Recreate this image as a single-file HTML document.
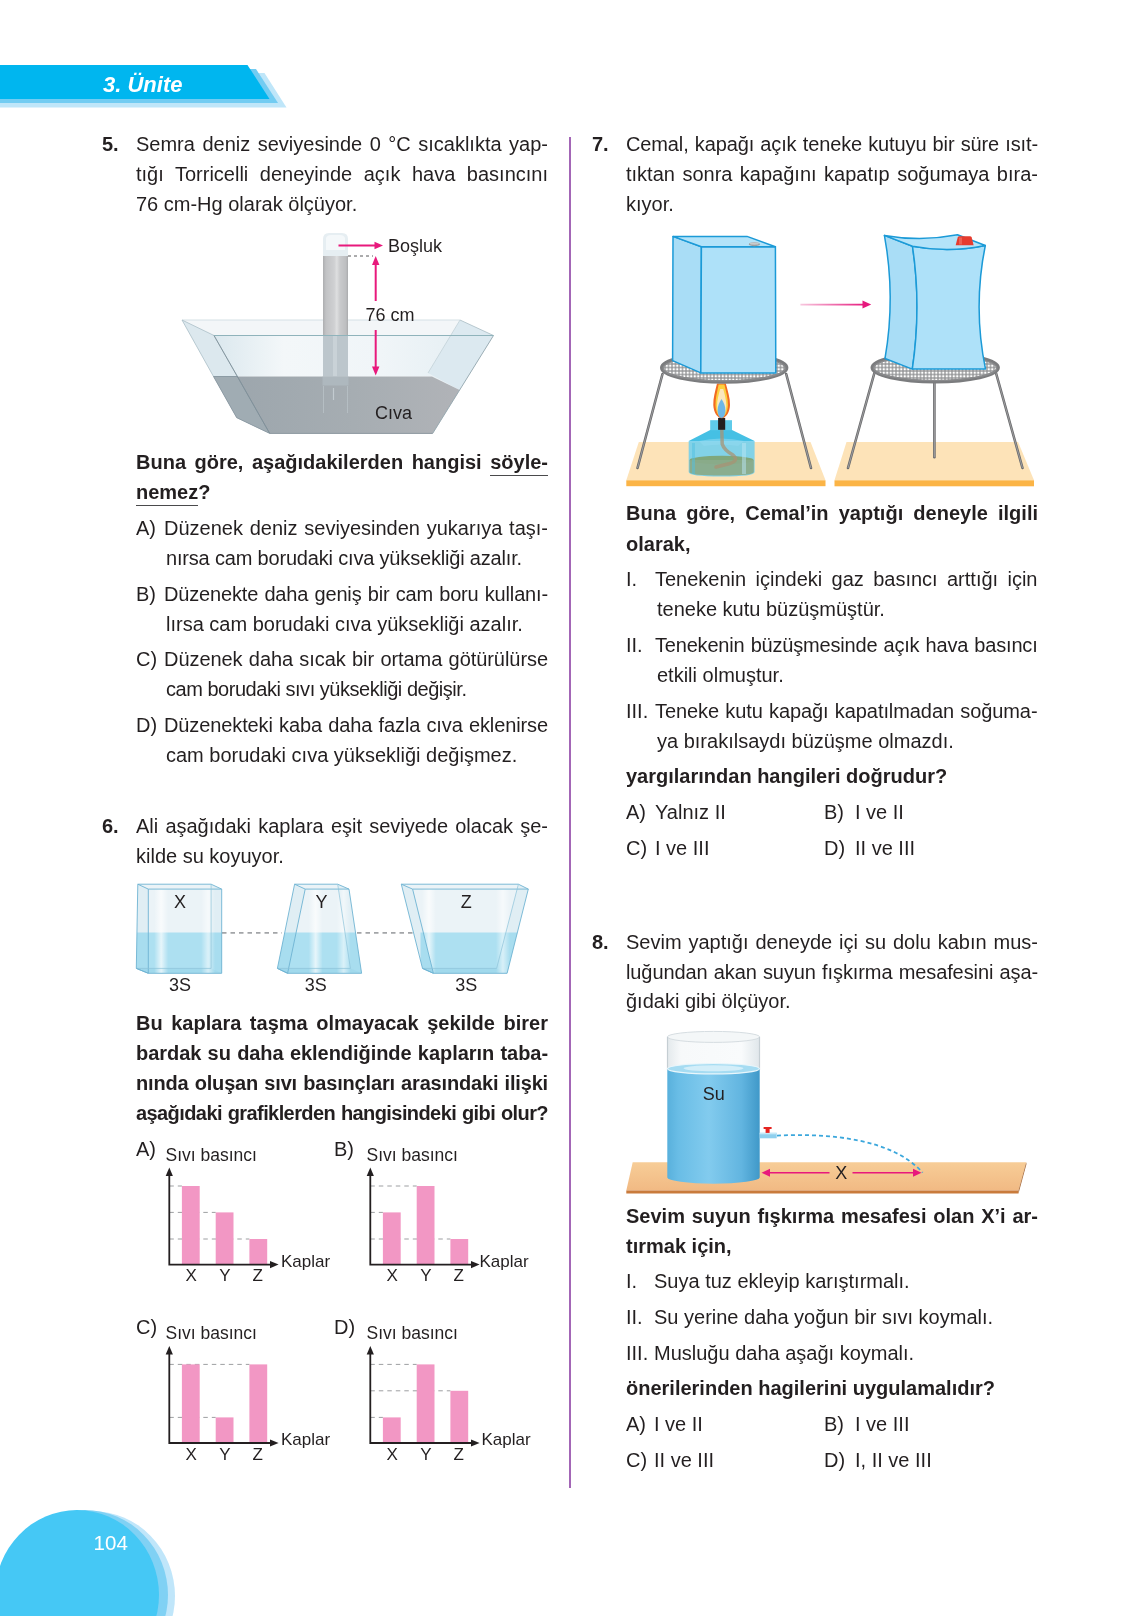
<!DOCTYPE html>
<html><head><meta charset="utf-8">
<style>
html,body{margin:0;padding:0;background:#fff;}
body{width:1134px;height:1616px;position:relative;overflow:hidden;font-family:"Liberation Sans",sans-serif;color:#231f20;}
.t{will-change:transform;position:absolute;font-size:20px;line-height:30px;white-space:nowrap;}
.t.j{white-space:normal;text-align:justify;text-align-last:justify;height:30px;overflow:visible;}
.b{font-weight:bold;}
u{text-decoration:none;border-bottom:1.5px solid #4a4a4c;padding-bottom:1.5px;}
svg{position:absolute;overflow:visible;will-change:transform;}
</style></head><body>
<svg style="left:0;top:0" width="1134" height="1616" viewBox="0 0 1134 1616">
<polygon points="0,73 264.5,73 286.5,107.5 0,107.5" fill="#bfe6f9"/>
<polygon points="0,69 256,69 278,103 0,103" fill="#72ccf2"/>
<polygon points="0,65 247.5,65 269.5,99 0,99" fill="#00b6ef"/>
<text x="103" y="92" font-family="Liberation Sans" font-weight="bold" font-style="italic" font-size="22" fill="#fff">3. Ünite</text>
<rect x="569" y="137" width="2" height="1351" fill="#a366b6"/>
<ellipse cx="92" cy="1596" rx="83" ry="85" fill="#c0e6fa"/>
<ellipse cx="85" cy="1595" rx="83" ry="85" fill="#80d1f4"/>
<ellipse cx="77" cy="1595" rx="82" ry="85" fill="#45c8f5"/>
<text x="93.6" y="1550" font-family="Liberation Sans" font-size="20.5" fill="#fff">104</text>
</svg>

<div class="t b" style="left:102px;top:129px;">5.</div>
<div class="t j" style="left:135.5px;top:129px;width:412.0px;">Semra deniz seviyesinde 0 °C sıcaklıkta yap-</div>
<div class="t j" style="left:135.5px;top:159px;width:412.0px;">tığı Torricelli deneyinde açık hava basıncını</div>
<div class="t" style="left:135.5px;top:189px;">76 cm-Hg olarak ölçüyor.</div>
<div class="t b j" style="left:135.5px;top:447px;width:412.0px;">Buna göre, aşağıdakilerden hangisi <u>söyle-</u></div>
<div class="t b" style="left:135.5px;top:477px;"><u>nemez</u>?</div>
<div class="t" style="left:135.5px;top:513px;">A)</div>
<div class="t j" style="left:163.5px;top:513px;width:384.0px;">Düzenek deniz seviyesinden yukarıya taşı-</div>
<div class="t" style="left:165.8px;top:543px;letter-spacing:-0.18px;">nırsa cam borudaki cıva yüksekliği azalır.</div>
<div class="t" style="left:135.5px;top:579px;">B)</div>
<div class="t j" style="left:163.5px;top:579px;width:384.0px;letter-spacing:-0.157px;">Düzenekte daha geniş bir cam boru kullanı-</div>
<div class="t" style="left:165.8px;top:609px;">lırsa cam borudaki cıva yüksekliği azalır.</div>
<div class="t" style="left:135.5px;top:644px;">C)</div>
<div class="t j" style="left:163.5px;top:644px;width:384.0px;letter-spacing:-0.059px;">Düzenek daha sıcak bir ortama götürülürse</div>
<div class="t" style="left:165.8px;top:674px;letter-spacing:-0.47px;">cam borudaki sıvı yüksekliği değişir.</div>
<div class="t" style="left:135.5px;top:710px;">D)</div>
<div class="t j" style="left:163.5px;top:710px;width:384.0px;letter-spacing:-0.111px;">Düzenekteki kaba daha fazla cıva eklenirse</div>
<div class="t" style="left:165.8px;top:740px;">cam borudaki cıva yüksekliği değişmez.</div>
<div class="t b" style="left:102px;top:811px;">6.</div>
<div class="t j" style="left:135.5px;top:811px;width:412.0px;">Ali aşağıdaki kaplara eşit seviyede olacak şe-</div>
<div class="t" style="left:135.5px;top:841px;">kilde su koyuyor.</div>
<div class="t b j" style="left:135.5px;top:1008px;width:412.0px;">Bu kaplara taşma olmayacak şekilde birer</div>
<div class="t b j" style="left:135.5px;top:1038px;width:412.0px;letter-spacing:-0.051px;">bardak su daha eklendiğinde kapların taba-</div>
<div class="t b j" style="left:135.5px;top:1068px;width:412.0px;letter-spacing:-0.168px;">nında oluşan sıvı basınçları arasındaki ilişki</div>
<div class="t b j" style="left:135.5px;top:1098px;width:412.0px;letter-spacing:-0.584px;">aşağıdaki grafiklerden hangisindeki gibi olur?</div>
<div class="t b" style="left:592px;top:129px;">7.</div>
<div class="t j" style="left:625.5px;top:129px;width:412.0px;letter-spacing:-0.128px;">Cemal, kapağı açık teneke kutuyu bir süre ısıt-</div>
<div class="t j" style="left:625.5px;top:159px;width:412.0px;">tıktan sonra kapağını kapatıp soğumaya bıra-</div>
<div class="t" style="left:625.5px;top:189px;">kıyor.</div>
<div class="t b j" style="left:625.5px;top:498px;width:412.0px;">Buna göre, Cemal’in yaptığı deneyle ilgili</div>
<div class="t b" style="left:625.5px;top:528.5px;">olarak,</div>
<div class="t" style="left:625.5px;top:564px;">I.</div>
<div class="t j" style="left:655px;top:564px;width:382.5px;">Tenekenin içindeki gaz basıncı arttığı için</div>
<div class="t" style="left:657px;top:593.5px;">teneke kutu büzüşmüştür.</div>
<div class="t" style="left:625.5px;top:630px;">II.</div>
<div class="t j" style="left:655px;top:630px;width:382.5px;letter-spacing:-0.19px;">Tenekenin büzüşmesinde açık hava basıncı</div>
<div class="t" style="left:657px;top:659.5px;">etkili olmuştur.</div>
<div class="t" style="left:625.5px;top:696px;">III.</div>
<div class="t j" style="left:655px;top:696px;width:382.5px;letter-spacing:-0.081px;">Teneke kutu kapağı kapatılmadan soğuma-</div>
<div class="t" style="left:657px;top:726px;">ya bırakılsaydı büzüşme olmazdı.</div>
<div class="t b" style="left:625.5px;top:760.5px;">yargılarından hangileri doğrudur?</div>
<div class="t" style="left:625.5px;top:797px;">A)</div>
<div class="t" style="left:655px;top:797px;">Yalnız II</div>
<div class="t" style="left:824px;top:797px;">B)</div>
<div class="t" style="left:855px;top:797px;">I ve II</div>
<div class="t" style="left:625.5px;top:832.5px;">C)</div>
<div class="t" style="left:655px;top:832.5px;">I ve III</div>
<div class="t" style="left:824px;top:832.5px;">D)</div>
<div class="t" style="left:855px;top:832.5px;">II ve III</div>
<div class="t b" style="left:592px;top:926.5px;">8.</div>
<div class="t j" style="left:625.5px;top:926.5px;width:412.0px;">Sevim yaptığı deneyde içi su dolu kabın mus-</div>
<div class="t j" style="left:625.5px;top:956.5px;width:412.0px;letter-spacing:-0.101px;">luğundan akan suyun fışkırma mesafesini aşa-</div>
<div class="t" style="left:625.5px;top:986px;">ğıdaki gibi ölçüyor.</div>
<div class="t b j" style="left:625.5px;top:1201px;width:412.0px;">Sevim suyun fışkırma mesafesi olan X’i ar-</div>
<div class="t b" style="left:625.5px;top:1230.5px;">tırmak için,</div>
<div class="t" style="left:625.5px;top:1265.5px;">I.</div>
<div class="t" style="left:654px;top:1265.5px;">Suya tuz ekleyip karıştırmalı.</div>
<div class="t" style="left:625.5px;top:1301.5px;">II.</div>
<div class="t" style="left:654px;top:1301.5px;">Su yerine daha yoğun bir sıvı koymalı.</div>
<div class="t" style="left:625.5px;top:1337.5px;">III.</div>
<div class="t" style="left:654px;top:1337.5px;">Musluğu daha aşağı koymalı.</div>
<div class="t b" style="left:625.5px;top:1373px;">önerilerinden hagilerini uygulamalıdır?</div>
<div class="t" style="left:625.5px;top:1409px;">A)</div>
<div class="t" style="left:654px;top:1409px;">I ve II</div>
<div class="t" style="left:824px;top:1409px;">B)</div>
<div class="t" style="left:855px;top:1409px;">I ve III</div>
<div class="t" style="left:625.5px;top:1445px;">C)</div>
<div class="t" style="left:654px;top:1445px;">II ve III</div>
<div class="t" style="left:824px;top:1445px;">D)</div>
<div class="t" style="left:855px;top:1445px;">I, II ve III</div>
<div class="t" style="left:135.5px;top:1134px;">A)</div>
<div class="t" style="left:334px;top:1134px;">B)</div>
<div class="t" style="left:135.5px;top:1312px;">C)</div>
<div class="t" style="left:334px;top:1312px;">D)</div>
<svg style="left:170px;top:225px" width="340" height="215" viewBox="170 225 340 215">
<defs>
<linearGradient id="hg" gradientUnits="userSpaceOnUse" x1="214" y1="0" x2="493" y2="0">
<stop offset="0" stop-color="#9ba5ac"/><stop offset="0.5" stop-color="#a6adb2"/><stop offset="1" stop-color="#b4b5b9"/>
</linearGradient>
<linearGradient id="tg" gradientUnits="userSpaceOnUse" x1="323" y1="0" x2="348" y2="0">
<stop offset="0" stop-color="#adaeb0"/><stop offset="0.12" stop-color="#c2c3c5"/><stop offset="0.45" stop-color="#cfd0d2"/><stop offset="0.55" stop-color="#dedfe0"/><stop offset="0.68" stop-color="#c9cacc"/><stop offset="0.92" stop-color="#bdbec0"/><stop offset="1" stop-color="#a9aaac"/>
</linearGradient>
<linearGradient id="fg" gradientUnits="userSpaceOnUse" x1="214" y1="0" x2="493" y2="0">
<stop offset="0" stop-color="#dbe8ee"/><stop offset="0.25" stop-color="#f3f7f9"/><stop offset="0.6" stop-color="#f0f5f8"/><stop offset="1" stop-color="#e2edf2"/>
</linearGradient>
</defs>
<!-- back glass rim area -->
<polygon points="182,320 460,320 493.5,335.5 214,335.5" fill="#f3f6f8"/>
<line x1="182" y1="320" x2="460" y2="320" stroke="#d5e0e5" stroke-width="1"/>
<!-- front face glass above mercury -->
<polygon points="214,335.5 493.5,335.5 459.7,390 432,376.5 237.5,376.5" fill="url(#fg)"/>
<!-- left panel -->
<polygon points="182,320 214,335.5 237.5,376.5 213.5,376.5" fill="#dce8ee" stroke="#a9bec6" stroke-width="0.8"/>
<!-- right panel -->
<polygon points="460,320 493.5,335.5 459.7,390 428,373" fill="#dce9f0"/><line x1="460" y1="320" x2="428" y2="373" stroke="#c3d2d8" stroke-width="0.8"/><line x1="460" y1="320" x2="493.5" y2="335.5" stroke="#a9bcc4" stroke-width="0.8"/>
<!-- mercury -->
<polygon points="213.5,376.5 432,376.5 459.7,390 432.7,433.4 269.7,433.4 236.7,417.7" fill="url(#hg)"/>
<polygon points="213.5,376.5 237.5,376.5 269.7,433.4 236.7,417.7" fill="#a0acb3" stroke="#8796a0" stroke-width="0.8"/>
<line x1="214" y1="335.5" x2="269.7" y2="433.4" stroke="#7f9099" stroke-width="0.9"/>
<line x1="493.5" y1="335.5" x2="432.7" y2="433.4" stroke="#93a6ae" stroke-width="0.9"/>
<line x1="269.7" y1="433.4" x2="432.7" y2="433.4" stroke="#8e9aa2" stroke-width="1"/>
<!-- tube -->
<rect x="323" y="256" width="25" height="79.5" fill="url(#tg)"/>
<rect x="323" y="335.5" width="25" height="41" fill="#bcc6cc"/>
<rect x="333" y="335.5" width="4" height="41" fill="#c9d2d7"/>
<rect x="322.5" y="376.5" width="26" height="9" fill="#aeb8be"/>
<line x1="323.5" y1="386" x2="323.5" y2="413" stroke="#b5bec3" stroke-width="1"/>
<line x1="347.5" y1="386" x2="347.5" y2="413" stroke="#b5bec3" stroke-width="1"/>
<line x1="333.5" y1="388" x2="333.5" y2="400" stroke="#c3cbd0" stroke-width="1.2"/>
<line x1="214" y1="335.5" x2="493.5" y2="335.5" stroke="#8fb3bb" stroke-width="1"/>
<path d="M323,256 L323,239 Q323,233 329,233 L342,233 Q348,233 348,239 L348,256 Z" fill="#e6eef2"/>
<path d="M326,238 Q327,235 331,235 L340,235 Q344,235 345,238 L345,250 L326,250 Z" fill="#f4f8fa"/>
<!-- arrows -->
<g stroke="#e8197c" stroke-width="2" fill="#e8197c">
<line x1="338.5" y1="245.5" x2="376" y2="245.5"/>
<polygon points="383,245.5 374.5,241.8 374.5,249.2" stroke="none"/>
<line x1="375.7" y1="263" x2="375.7" y2="301"/>
<line x1="375.7" y1="330" x2="375.7" y2="368"/>
<polygon points="375.7,256 372,265 379.4,265" stroke="none"/>
<polygon points="375.7,375.5 372,366.5 379.4,366.5" stroke="none"/>
</g>
<line x1="348" y1="256" x2="373" y2="256" stroke="#58595b" stroke-width="1" stroke-dasharray="3,3"/>
<g font-family="Liberation Sans" font-size="18" fill="#231f20">
<text x="388" y="251.5">Boşluk</text>
<text x="365.5" y="321">76 cm</text>
<text x="375" y="418.5">Cıva</text>
</g>
</svg>

<svg style="left:120px;top:870px" width="430" height="130" viewBox="120 870 430 130">
<defs><linearGradient id="hl" x1="0" y1="0" x2="1" y2="0"><stop offset="0" stop-color="#fff" stop-opacity="0"/><stop offset="0.5" stop-color="#fff" stop-opacity="1"/><stop offset="1" stop-color="#fff" stop-opacity="0"/></linearGradient></defs>
<line x1="222" y1="932.8" x2="282" y2="932.8" stroke="#a3a5a8" stroke-width="1.7" stroke-dasharray="4.5,4"/>
<line x1="357" y1="932.8" x2="417" y2="932.8" stroke="#a3a5a8" stroke-width="1.7" stroke-dasharray="4.5,4"/>
<clipPath id="cx"><polygon points="137.8,884.2 211.1,884.2 221.7,889.1 221.7,973.3 148.3,973.3 136.3,968.4"/></clipPath>
<polygon points="137.8,884.2 211.1,884.2 221.7,889.1 221.7,973.3 148.3,973.3 136.3,968.4" fill="#ebf3f7"/>
<g clip-path="url(#cx)">
<rect x="134.3" y="932.5" width="89.39999999999998" height="42.799999999999955" fill="#ade0f1"/>
<polygon points="137.8,884.2 148.3,889.1 148.3,973.3 136.3,968.4" fill="#7fc4e0" opacity="0.1"/>
<polygon points="211.1,884.2 221.7,889.1 221.7,973.3 211.1,968.4" fill="#7fc4e0" opacity="0.1"/>
<polygon points="136.3,968.4 211.1,968.4 221.7,973.3 148.3,973.3" fill="#7fc4e0" opacity="0.25"/>
<clipPath id="fx"><polygon points="148.3,889.1 221.7,889.1 221.7,973.3 148.3,973.3"/></clipPath>
<g clip-path="url(#fx)">
<rect x="154.2" y="889.1" width="14" height="84.19999999999993" fill="url(#hl)" opacity="0.7"/>
<rect x="201.1" y="889.1" width="14" height="84.19999999999993" fill="url(#hl)" opacity="0.55"/>
</g>
</g>
<polygon points="137.8,884.2 211.1,884.2 221.7,889.1 221.7,973.3 148.3,973.3 136.3,968.4" fill="none" stroke="#6eb3d2" stroke-width="0.9"/>
<polyline points="137.8,884.2 148.3,889.1 221.7,889.1" fill="none" stroke="#6eb3d2" stroke-width="0.9"/>
<line x1="148.3" y1="889.1" x2="148.3" y2="973.3" fill="none" stroke="#6eb3d2" stroke-width="0.9"/>
<polyline points="211.1,884.2 211.1,968.4 136.3,968.4" fill="none" stroke="#8cc3da" stroke-width="0.7"/>
<line x1="136.3" y1="968.4" x2="148.3" y2="973.3" fill="none" stroke="#6eb3d2" stroke-width="0.9"/>
<clipPath id="cy"><polygon points="294.6,884.2 337.7,884.2 349.0,889.1 361.6,973.3 287.6,973.3 277.4,968.4"/></clipPath>
<polygon points="294.6,884.2 337.7,884.2 349.0,889.1 361.6,973.3 287.6,973.3 277.4,968.4" fill="#ebf3f7"/>
<g clip-path="url(#cy)">
<rect x="275.4" y="932.5" width="88.20000000000005" height="42.799999999999955" fill="#ade0f1"/>
<polygon points="294.6,884.2 305.2,889.1 287.6,973.3 277.4,968.4" fill="#7fc4e0" opacity="0.1"/>
<polygon points="337.7,884.2 349.0,889.1 361.6,973.3 350.4,968.4" fill="#7fc4e0" opacity="0.1"/>
<polygon points="277.4,968.4 350.4,968.4 361.6,973.3 287.6,973.3" fill="#7fc4e0" opacity="0.25"/>
<clipPath id="fy"><polygon points="305.2,889.1 349.0,889.1 361.6,973.3 287.6,973.3"/></clipPath>
<g clip-path="url(#fy)">
<rect x="308.7" y="889.1" width="14" height="84.19999999999993" fill="url(#hl)" opacity="0.7"/>
<rect x="336.7" y="889.1" width="14" height="84.19999999999993" fill="url(#hl)" opacity="0.55"/>
</g>
</g>
<polygon points="294.6,884.2 337.7,884.2 349.0,889.1 361.6,973.3 287.6,973.3 277.4,968.4" fill="none" stroke="#6eb3d2" stroke-width="0.9"/>
<polyline points="294.6,884.2 305.2,889.1 349.0,889.1" fill="none" stroke="#6eb3d2" stroke-width="0.9"/>
<line x1="305.2" y1="889.1" x2="287.6" y2="973.3" fill="none" stroke="#6eb3d2" stroke-width="0.9"/>
<polyline points="337.7,884.2 350.4,968.4 277.4,968.4" fill="none" stroke="#8cc3da" stroke-width="0.7"/>
<line x1="277.4" y1="968.4" x2="287.6" y2="973.3" fill="none" stroke="#6eb3d2" stroke-width="0.9"/>
<clipPath id="cz"><polygon points="401.3,884.2 518.4,884.2 528.3,889.1 507.1,973.3 433.4,973.3 422.5,968.4"/></clipPath>
<polygon points="401.3,884.2 518.4,884.2 528.3,889.1 507.1,973.3 433.4,973.3 422.5,968.4" fill="#ebf3f7"/>
<g clip-path="url(#cz)">
<rect x="420.5" y="932.5" width="109.79999999999995" height="42.799999999999955" fill="#ade0f1"/>
<polygon points="401.3,884.2 412.6,889.1 433.4,973.3 422.5,968.4" fill="#7fc4e0" opacity="0.1"/>
<polygon points="518.4,884.2 528.3,889.1 507.1,973.3 496.6,968.4" fill="#7fc4e0" opacity="0.1"/>
<polygon points="422.5,968.4 496.6,968.4 507.1,973.3 433.4,973.3" fill="#7fc4e0" opacity="0.25"/>
<clipPath id="fz"><polygon points="412.6,889.1 528.3,889.1 507.1,973.3 433.4,973.3"/></clipPath>
<g clip-path="url(#fz)">
<rect x="421.9" y="889.1" width="14" height="84.19999999999993" fill="url(#hl)" opacity="0.7"/>
<rect x="495.9" y="889.1" width="14" height="84.19999999999993" fill="url(#hl)" opacity="0.55"/>
</g>
</g>
<polygon points="401.3,884.2 518.4,884.2 528.3,889.1 507.1,973.3 433.4,973.3 422.5,968.4" fill="none" stroke="#6eb3d2" stroke-width="0.9"/>
<polyline points="401.3,884.2 412.6,889.1 528.3,889.1" fill="none" stroke="#6eb3d2" stroke-width="0.9"/>
<line x1="412.6" y1="889.1" x2="433.4" y2="973.3" fill="none" stroke="#6eb3d2" stroke-width="0.9"/>
<polyline points="518.4,884.2 496.6,968.4 422.5,968.4" fill="none" stroke="#8cc3da" stroke-width="0.7"/>
<line x1="422.5" y1="968.4" x2="433.4" y2="973.3" fill="none" stroke="#6eb3d2" stroke-width="0.9"/>
<g font-family="Liberation Sans" font-size="18" fill="#231f20" text-anchor="middle">
<text x="180" y="907.7">X</text>
<text x="321.4" y="907.7">Y</text>
<text x="466.2" y="907.7">Z</text>
<text x="180" y="990.7">3S</text>
<text x="315.8" y="990.7">3S</text>
<text x="466.2" y="990.7">3S</text>
</g>
</svg>
<svg style="left:130px;top:1130px" width="420" height="340" viewBox="130 1130 420 340">
<line x1="169.3" y1="1212.4" x2="215.7" y2="1212.4" stroke="#9d9fa2" stroke-width="1" stroke-dasharray="4.5,4"/>
<line x1="169.3" y1="1239.0" x2="249.4" y2="1239.0" stroke="#9d9fa2" stroke-width="1" stroke-dasharray="4.5,4"/>
<line x1="169.3" y1="1186.0" x2="181.9" y2="1186.0" stroke="#9d9fa2" stroke-width="1" stroke-dasharray="4.5,4"/>
<rect x="181.9" y="1186.0" width="17.8" height="78.59999999999991" fill="#f297c4"/>
<rect x="215.7" y="1212.4" width="17.8" height="52.19999999999982" fill="#f297c4"/>
<rect x="249.4" y="1239.0" width="17.8" height="25.59999999999991" fill="#f297c4"/>
<path d="M169.3,1174 L169.3,1264.6 L270.5,1264.6" fill="none" stroke="#231f20" stroke-width="1.8"/>
<polygon points="169.3,1167.5 165.70000000000002,1176 172.9,1176" fill="#231f20"/>
<polygon points="278.6,1264.6 270,1261.0 270,1268.1999999999998" fill="#231f20"/>
<g font-family="Liberation Sans" fill="#231f20">
<text x="165.5" y="1160.6" font-size="17.5">Sıvı basıncı</text>
<text x="281" y="1267" font-size="17">Kaplar</text>
<text x="191.1" y="1281.3" font-size="17" text-anchor="middle">X</text>
<text x="224.8" y="1281.3" font-size="17" text-anchor="middle">Y</text>
<text x="257.8" y="1281.3" font-size="17" text-anchor="middle">Z</text>
</g>
<line x1="370.3" y1="1212.4" x2="382.9" y2="1212.4" stroke="#9d9fa2" stroke-width="1" stroke-dasharray="4.5,4"/>
<line x1="370.3" y1="1239.0" x2="450.4" y2="1239.0" stroke="#9d9fa2" stroke-width="1" stroke-dasharray="4.5,4"/>
<line x1="370.3" y1="1186.0" x2="416.7" y2="1186.0" stroke="#9d9fa2" stroke-width="1" stroke-dasharray="4.5,4"/>
<rect x="382.9" y="1212.4" width="17.8" height="52.19999999999982" fill="#f297c4"/>
<rect x="416.7" y="1186.0" width="17.8" height="78.59999999999991" fill="#f297c4"/>
<rect x="450.4" y="1239.0" width="17.8" height="25.59999999999991" fill="#f297c4"/>
<path d="M370.3,1174 L370.3,1264.6 L471.5,1264.6" fill="none" stroke="#231f20" stroke-width="1.8"/>
<polygon points="370.3,1167.5 366.7,1176 373.90000000000003,1176" fill="#231f20"/>
<polygon points="479.6,1264.6 471,1261.0 471,1268.1999999999998" fill="#231f20"/>
<g font-family="Liberation Sans" fill="#231f20">
<text x="366.5" y="1160.6" font-size="17.5">Sıvı basıncı</text>
<text x="479.5" y="1267" font-size="17">Kaplar</text>
<text x="392.1" y="1281.3" font-size="17" text-anchor="middle">X</text>
<text x="425.8" y="1281.3" font-size="17" text-anchor="middle">Y</text>
<text x="458.8" y="1281.3" font-size="17" text-anchor="middle">Z</text>
</g>
<line x1="169.3" y1="1417.4" x2="215.7" y2="1417.4" stroke="#9d9fa2" stroke-width="1" stroke-dasharray="4.5,4"/>
<line x1="169.3" y1="1364.4" x2="249.4" y2="1364.4" stroke="#9d9fa2" stroke-width="1" stroke-dasharray="4.5,4"/>
<rect x="181.9" y="1364.4" width="17.8" height="78.59999999999991" fill="#f297c4"/>
<rect x="215.7" y="1417.4" width="17.8" height="25.59999999999991" fill="#f297c4"/>
<rect x="249.4" y="1364.4" width="17.8" height="78.59999999999991" fill="#f297c4"/>
<path d="M169.3,1352.4 L169.3,1443.0 L270.5,1443.0" fill="none" stroke="#231f20" stroke-width="1.8"/>
<polygon points="169.3,1345.9 165.70000000000002,1354.4 172.9,1354.4" fill="#231f20"/>
<polygon points="278.6,1443.0 270,1439.4 270,1446.6" fill="#231f20"/>
<g font-family="Liberation Sans" fill="#231f20">
<text x="165.5" y="1339.0" font-size="17.5">Sıvı basıncı</text>
<text x="281" y="1445.4" font-size="17">Kaplar</text>
<text x="191.1" y="1459.7" font-size="17" text-anchor="middle">X</text>
<text x="224.8" y="1459.7" font-size="17" text-anchor="middle">Y</text>
<text x="257.8" y="1459.7" font-size="17" text-anchor="middle">Z</text>
</g>
<line x1="370.3" y1="1390.8000000000002" x2="450.4" y2="1390.8000000000002" stroke="#9d9fa2" stroke-width="1" stroke-dasharray="4.5,4"/>
<line x1="370.3" y1="1417.4" x2="382.9" y2="1417.4" stroke="#9d9fa2" stroke-width="1" stroke-dasharray="4.5,4"/>
<line x1="370.3" y1="1364.4" x2="416.7" y2="1364.4" stroke="#9d9fa2" stroke-width="1" stroke-dasharray="4.5,4"/>
<rect x="382.9" y="1417.4" width="17.8" height="25.59999999999991" fill="#f297c4"/>
<rect x="416.7" y="1364.4" width="17.8" height="78.59999999999991" fill="#f297c4"/>
<rect x="450.4" y="1390.8000000000002" width="17.8" height="52.19999999999982" fill="#f297c4"/>
<path d="M370.3,1352.4 L370.3,1443.0 L471.5,1443.0" fill="none" stroke="#231f20" stroke-width="1.8"/>
<polygon points="370.3,1345.9 366.7,1354.4 373.90000000000003,1354.4" fill="#231f20"/>
<polygon points="479.6,1443.0 471,1439.4 471,1446.6" fill="#231f20"/>
<g font-family="Liberation Sans" fill="#231f20">
<text x="366.5" y="1339.0" font-size="17.5">Sıvı basıncı</text>
<text x="481.5" y="1445.4" font-size="17">Kaplar</text>
<text x="392.1" y="1459.7" font-size="17" text-anchor="middle">X</text>
<text x="425.8" y="1459.7" font-size="17" text-anchor="middle">Y</text>
<text x="458.8" y="1459.7" font-size="17" text-anchor="middle">Z</text>
</g>
</svg>
<svg style="left:620px;top:225px" width="420" height="270" viewBox="620 225 420 270">
<defs>
<pattern id="mesh" x="0" y="0" width="3.5" height="3.5" patternUnits="userSpaceOnUse">
<rect width="3.5" height="3.5" fill="#8e8f91"/><rect x="0.6" y="0.6" width="2.3" height="2.3" fill="#fff"/>
</pattern>
<linearGradient id="arr7" gradientUnits="userSpaceOnUse" x1="800" y1="0" x2="866" y2="0">
<stop offset="0" stop-color="#f8c9df"/><stop offset="1" stop-color="#e6197d"/>
</linearGradient>
<linearGradient id="leg" x1="0" y1="0" x2="1" y2="0">
<stop offset="0" stop-color="#5e5f61"/><stop offset="0.5" stop-color="#9a9b9d"/><stop offset="1" stop-color="#5e5f61"/>
</linearGradient>
</defs>
<!-- tables -->
<polygon points="638.8,442 810.5,442 825.5,480.3 626.3,480.3" fill="#fde3b8"/>
<rect x="626.3" y="480.3" width="199.2" height="5.9" fill="#fbb446"/>
<polygon points="846.5,442 1018.1,442 1034,480.3 834.5,480.3" fill="#fde3b8"/>
<rect x="834.5" y="480.3" width="199.5" height="6" fill="#fbb446"/>
<!-- burner -->
<g>
<path d="M688.7,440.9 L754.6,440.9 L754.6,472 Q754.6,476.5 721.6,476.5 Q688.7,476.5 688.7,472 Z" fill="#74cfec" opacity="0.9"/>
<ellipse cx="721.6" cy="460" rx="32" ry="4.3" fill="#7fa77c"/>
<path d="M689.5,460 L753.8,460 L753.8,472 Q753.8,475.5 721.6,475.5 Q689.5,475.5 689.5,472 Z" fill="#8aab8a" opacity="0.95"/>
<rect x="742" y="443" width="4" height="31" fill="#b9e6f5" opacity="0.5"/>
<rect x="692" y="443" width="3" height="31" fill="#4fbfe2" opacity="0.5"/>
<polygon points="710.2,430 732,430 754.6,440.9 688.7,440.9" fill="#45c0e4"/>
<path d="M699,441 Q721,436 744,441 L738,446 Q721,443 704,446 Z" fill="#8fd8f0" opacity="0.6"/>
<rect x="710.2" y="420.2" width="21.8" height="10" fill="#5fcbea"/>
<path d="M721.8,430 L722.2,444 Q724,450 733,455 Q740,461 728,464 L716,467" fill="none" stroke="#a79374" stroke-width="3.5" stroke-linecap="round" opacity="0.75"/>
<rect x="718.1" y="417.9" width="7.1" height="11.9" fill="#231f20"/>
</g>
<!-- flame -->
<path d="M717,383.5 L725.8,383.5 C727.8,391 730.2,398 730,405 C729.8,412 726.2,418.2 721.7,418.2 C717.2,418.2 713.5,412 713.3,405 C713.1,398 715.2,391 717,383.5 Z" fill="#f26a21"/>
<path d="M718.6,384.5 L724.4,384.5 C726,391.5 728,398 727.9,405 C727.8,411 725.3,416.8 721.7,416.8 C718.1,416.8 715.6,411 715.5,405 C715.4,398 717.3,391.5 718.6,384.5 Z" fill="#fcd03f"/>
<path d="M720.2,389 L723.2,389 C724.8,395 726.4,400 726.3,405.5 C726.2,411 724.4,415.8 721.7,415.8 C719,415.8 717.2,411 717.1,405.5 C717,400 718.6,395 720.2,389 Z" fill="#fbe7bd"/>
<path d="M721.5,399 C723.6,402 725.5,406 725.4,410.5 C725.3,415 723.6,418 721.5,418 C719.4,418 717.7,415 717.6,410.5 C717.5,406 719.4,402 721.5,399 Z" fill="#6db7e6"/>
<!-- stand 1 -->
<line x1="662.5" y1="374" x2="637.5" y2="468" stroke="#6a6b6d" stroke-width="2.6" stroke-linecap="round"/><line x1="662.5" y1="374" x2="637.5" y2="468" stroke="#a9aaac" stroke-width="0.8"/>
<line x1="786.2" y1="374" x2="811" y2="468" stroke="#6a6b6d" stroke-width="2.6" stroke-linecap="round"/><line x1="786.2" y1="374" x2="811" y2="468" stroke="#a9aaac" stroke-width="0.8"/>
<ellipse cx="724.2" cy="367.8" rx="62.5" ry="14.3" fill="url(#mesh)" stroke="#7b7c7e" stroke-width="3.4"/><ellipse cx="724.2" cy="368.3" rx="61" ry="12.6" fill="none" stroke="#8a8b8d" stroke-width="1.4"/>
<!-- box 1 -->
<g stroke="#1b9ad7" stroke-width="1.5" stroke-linejoin="round">
<polygon points="673,236.4 701.4,246.8 700.8,372.9 672.6,360.6" fill="#a9ddf6"/>
<polygon points="701.4,246.8 775.4,246.8 775.8,372.9 700.8,372.9" fill="#aee1f9"/>
<polygon points="673,236.4 747,236.4 775.4,246.8 701.4,246.8" fill="#b3e3f9"/>
</g>
<ellipse cx="754.4" cy="244.2" rx="5.6" ry="2" fill="#9d9fa1"/>
<ellipse cx="754.4" cy="243.6" rx="4.6" ry="1.2" fill="#c9cacc"/>
<!-- arrow -->
<line x1="800.4" y1="304.6" x2="865" y2="304.6" stroke="url(#arr7)" stroke-width="1.6"/>
<polygon points="871.2,304.6 862.5,300.6 862.5,308.6" fill="#e6197d"/>
<!-- stand 2 -->
<line x1="874.4" y1="373" x2="848" y2="468" stroke="#6a6b6d" stroke-width="2.6" stroke-linecap="round"/><line x1="874.4" y1="373" x2="848" y2="468" stroke="#a9aaac" stroke-width="0.8"/>
<line x1="996" y1="373" x2="1022.5" y2="468" stroke="#6a6b6d" stroke-width="2.6" stroke-linecap="round"/><line x1="996" y1="373" x2="1022.5" y2="468" stroke="#a9aaac" stroke-width="0.8"/>
<line x1="934.4" y1="380" x2="934.4" y2="457.3" stroke="#6a6b6d" stroke-width="2.6" stroke-linecap="round"/><line x1="934.4" y1="380" x2="934.4" y2="457.3" stroke="#a9aaac" stroke-width="0.8"/>
<ellipse cx="935.2" cy="367.6" rx="63" ry="14.2" fill="url(#mesh)" stroke="#7b7c7e" stroke-width="3.4"/><ellipse cx="935.2" cy="368.1" rx="61.5" ry="12.5" fill="none" stroke="#8a8b8d" stroke-width="1.4"/>
<!-- box 2 crumpled -->
<g stroke="#1b9ad7" stroke-width="1.5" stroke-linejoin="round">
<path d="M884.4,235.4 L912.5,246.3 Q921.6,307 912.3,369.1 L885,358.5 Q895.7,297 884.4,235.4 Z" fill="#a9ddf6"/>
<path d="M912.5,246.3 Q949,253.3 985.3,245.5 Q972.8,307 985.5,369.1 L912.3,369.1 Q921.6,307 912.5,246.3 Z" fill="#aee1f9"/>
<path d="M884.4,235.4 Q921,241.9 957.5,234.8 L985.3,245.5 Q949,253.3 912.5,246.3 Z" fill="#b3e3f9"/>
</g>
<path d="M955.7,245.2 L973.6,245.2 L971.6,237 Q971,236.2 970,236.2 L959.3,236.2 Q958.3,236.2 957.8,237 Z" fill="#e63b2e"/>
<rect x="959" y="237.5" width="3" height="7" fill="#f27a6a" opacity="0.6"/>
</svg>

<svg style="left:620px;top:1020px" width="420" height="180" viewBox="620 1020 420 180">
<defs>
<linearGradient id="wat" gradientUnits="userSpaceOnUse" x1="667" y1="0" x2="760" y2="0">
<stop offset="0" stop-color="#58b0dc"/><stop offset="0.12" stop-color="#69bde6"/><stop offset="0.45" stop-color="#82cbee"/><stop offset="0.8" stop-color="#62b5e0"/><stop offset="1" stop-color="#3f98c8"/>
</linearGradient>
<linearGradient id="tab" gradientUnits="userSpaceOnUse" x1="0" y1="1162" x2="0" y2="1191">
<stop offset="0" stop-color="#f7cd97"/><stop offset="1" stop-color="#f1b983"/>
</linearGradient>
<linearGradient id="gl" gradientUnits="userSpaceOnUse" x1="667" y1="0" x2="760" y2="0">
<stop offset="0" stop-color="#e3e9ec"/><stop offset="0.15" stop-color="#f7f9fa"/><stop offset="0.8" stop-color="#f9fbfc"/><stop offset="1" stop-color="#dfe6ea"/>
</linearGradient>
<linearGradient id="arr8" gradientUnits="userSpaceOnUse" x1="760" y1="0" x2="925" y2="0">
<stop offset="0" stop-color="#e8197c"/><stop offset="1" stop-color="#e8197c"/>
</linearGradient>
</defs>
<!-- table -->
<polygon points="632.7,1162.3 1026.2,1162.3 1018.5,1190.6 626.3,1190.6" fill="url(#tab)"/>
<polygon points="626.3,1190.6 1018.5,1190.6 1018.5,1193.4 626.3,1193.4" fill="#c97b3c"/>
<polygon points="1026.2,1162.3 1018.5,1190.6 1018.5,1193.4 1026.5,1164" fill="#a86a38"/>
<!-- glass upper -->
<path d="M667.3,1036.9 L667.3,1069 L759.7,1069 L759.7,1036.9 Z" fill="url(#gl)"/>
<ellipse cx="713.5" cy="1036.9" rx="46.2" ry="5.5" fill="#f4f7f8" stroke="#d6dde1" stroke-width="1"/>
<line x1="667.5" y1="1037" x2="667.5" y2="1070" stroke="#c5ced3" stroke-width="1.2"/>
<line x1="759.5" y1="1037" x2="759.5" y2="1070" stroke="#c5ced3" stroke-width="1.2"/>
<!-- water -->
<path d="M667.3,1068.7 L667.3,1177.4 A46.2,6.3 0 0 0 759.7,1177.4 L759.7,1068.7 Z" fill="url(#wat)"/>
<ellipse cx="713.5" cy="1068.7" rx="46" ry="5.2" fill="#a6dcf2" stroke="#e9f6fb" stroke-width="1.2"/>
<ellipse cx="713.5" cy="1068.3" rx="30" ry="3" fill="#d3eef9"/>
<text x="713.8" y="1099.6" font-family="Liberation Sans" font-size="18" fill="#231f20" text-anchor="middle">Su</text>
<!-- faucet -->
<rect x="759.7" y="1132.8" width="17" height="5.5" fill="#8fd0ee"/>
<rect x="759.7" y="1132.8" width="17" height="1.5" fill="#c7e9f7"/>
<rect x="765.6" y="1127.4" width="4" height="5.5" fill="#e52421"/>
<rect x="763.6" y="1127" width="8" height="2" fill="#e52421"/>
<!-- trajectory -->
<path d="M777,1135.6 C830,1133 893,1139 922.6,1172.7" fill="none" stroke="#3ba7dc" stroke-width="1.8" stroke-dasharray="4,3"/>
<!-- arrow X -->
<line x1="768" y1="1172.8" x2="829.5" y2="1172.8" stroke="#e8197c" stroke-width="1.6"/>
<line x1="852.5" y1="1172.8" x2="915" y2="1172.8" stroke="#e8197c" stroke-width="1.6"/>
<polygon points="761.5,1172.8 770,1168.8 770,1176.8" fill="#e8197c"/>
<polygon points="921.5,1172.8 913,1168.8 913,1176.8" fill="#e8197c"/>
<text x="841.3" y="1178.5" font-family="Liberation Sans" font-size="18" fill="#231f20" text-anchor="middle">X</text>
</svg>

</body></html>
